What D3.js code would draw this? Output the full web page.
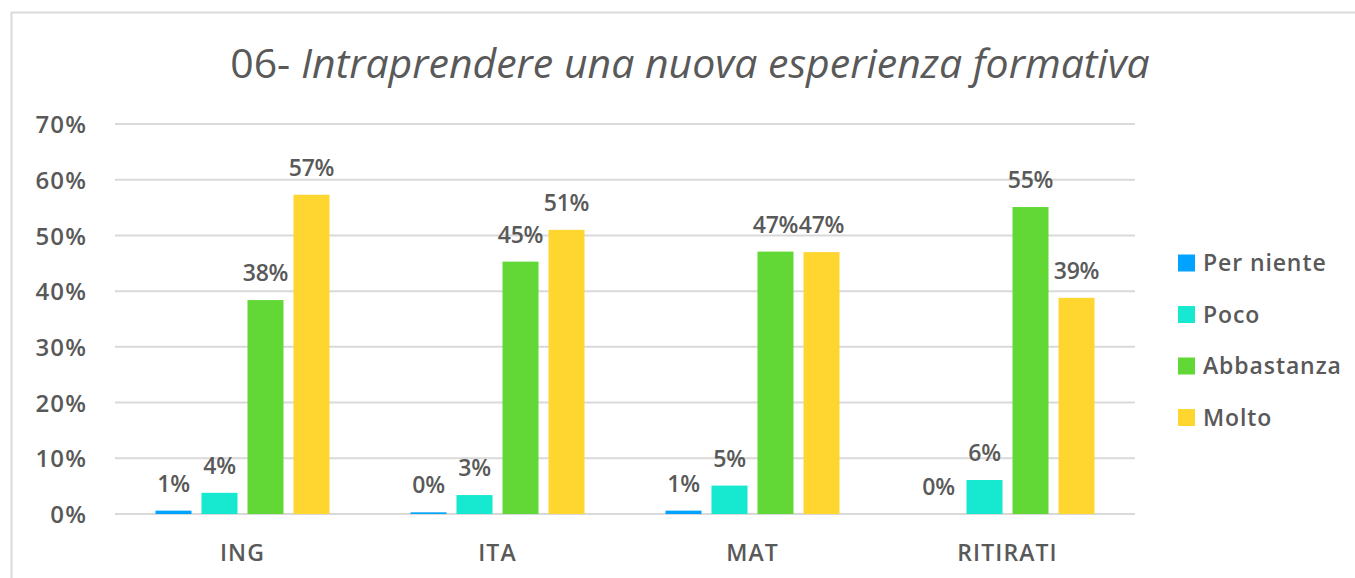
<!DOCTYPE html>
<html><head><meta charset="utf-8">
<script src="https://cdn.jsdelivr.net/npm/d3@7"></script>
<style>body{margin:0;background:#fff;} svg{display:block;font-family:"Open Sans",sans-serif;}</style>
</head><body>
<svg id="c" width="1355" height="578"></svg>
<script>
const titlePrefix = "06- ";
const titleMain = "Intraprendere una nuova esperienza formativa";
const categories = ["ING", "ITA", "MAT", "RITIRATI"];
const seriesNames = ["Per niente", "Poco", "Abbastanza", "Molto"];
const seriesColors = ["#00a3ff", "#17e8d0", "#62d837", "#ffd62f"];
const perNiente = [0.6, 0.3, 0.6, 0.0];
const poco = [3.8, 3.4, 5.1, 6.1];
const abbastanza = [38.4, 45.3, 47.1, 55.1];
const molto = [57.3, 51.0, 47.0, 38.8];
const yTicks = [0, 10, 20, 30, 40, 50, 60, 70];
const values = [perNiente, poco, abbastanza, molto];

const svg = d3.select("#c");
const txt = "#595959";
const ls = 1.1;

svg.append("rect").attr("x", 11.5).attr("y", 12.5).attr("width", 1400).attr("height", 600)
  .attr("fill", "#fff").attr("stroke", "#d9d9d9").attr("stroke-width", 2);

const x = d3.scaleBand().domain(categories).range([115, 1135]);
const y = d3.scaleLinear().domain([0, 70]).range([514, 124]);
const step = 46, bw = 36;

// gridlines
svg.append("g").selectAll("line").data(yTicks).join("line")
  .attr("x1", 115).attr("x2", 1135)
  .attr("y1", d => y(d)).attr("y2", d => y(d))
  .attr("stroke", "#d9d9d9").attr("stroke-width", 2);

// y axis labels
const yAxis = d3.axisLeft(y).tickValues(yTicks).tickFormat(d => d + "%").tickSize(0).tickPadding(0);
const ya = svg.append("g").attr("transform", "translate(87,0)").call(yAxis);
ya.select(".domain").remove();
ya.selectAll("text").attr("fill", txt).attr("font-size", 24).attr("font-family", "Open Sans")
  .attr("font-weight", 600).attr("letter-spacing", ls).attr("dy", "0.36em");

// x axis labels
const xAxis = d3.axisBottom(x).tickSize(0).tickPadding(0);
const xa = svg.append("g").attr("transform", "translate(0,544)").call(xAxis);
xa.select(".domain").remove();
xa.selectAll("text").attr("fill", txt).attr("font-size", 23).attr("font-family", "Open Sans")
  .attr("font-weight", 600).attr("letter-spacing", ls).attr("dy", "0.72em");

// bars
const bars = [];
categories.forEach((c, ci) => {
  values.forEach((arr, si) => {
    bars.push({c, si, v: arr[ci]});
  });
});
const bx = d => x(d.c) + x.bandwidth() / 2 + (d.si - 1.5) * step - bw / 2;
svg.append("g").selectAll("rect").data(bars).join("rect")
  .attr("x", bx).attr("width", bw)
  .attr("y", d => y(d.v)).attr("height", d => y(0) - y(d.v))
  .attr("fill", d => seriesColors[d.si]);

svg.append("g").selectAll("text").data(bars).join("text")
  .attr("x", d => bx(d) + bw / 2).attr("y", d => y(d.v) - 19)
  .attr("text-anchor", "middle").attr("fill", txt).attr("font-size", 23).attr("font-weight", 600)
  .attr("letter-spacing", -0.2)
  .text(d => Math.round(d.v) + "%");

// legend
const lg = svg.append("g").selectAll("g").data(seriesNames).join("g")
  .attr("transform", (d, i) => `translate(1178,${263 + i * 51.5})`);
lg.append("rect").attr("x", 0).attr("y", -8.5).attr("width", 17).attr("height", 17)
  .attr("fill", (d, i) => seriesColors[i]);
lg.append("text").attr("x", 25).attr("dy", "0.36em").attr("fill", txt)
  .attr("font-size", 23).attr("font-weight", 600).attr("letter-spacing", 0.9).text(d => d);

// title
const t = svg.append("text").attr("x", 690).attr("y", 78).attr("text-anchor", "middle")
  .attr("fill", txt).attr("font-size", 41).attr("font-weight", 500);
t.append("tspan").text(titlePrefix);
t.append("tspan").attr("font-style", "italic").text(titleMain);
</script>
</body></html>
